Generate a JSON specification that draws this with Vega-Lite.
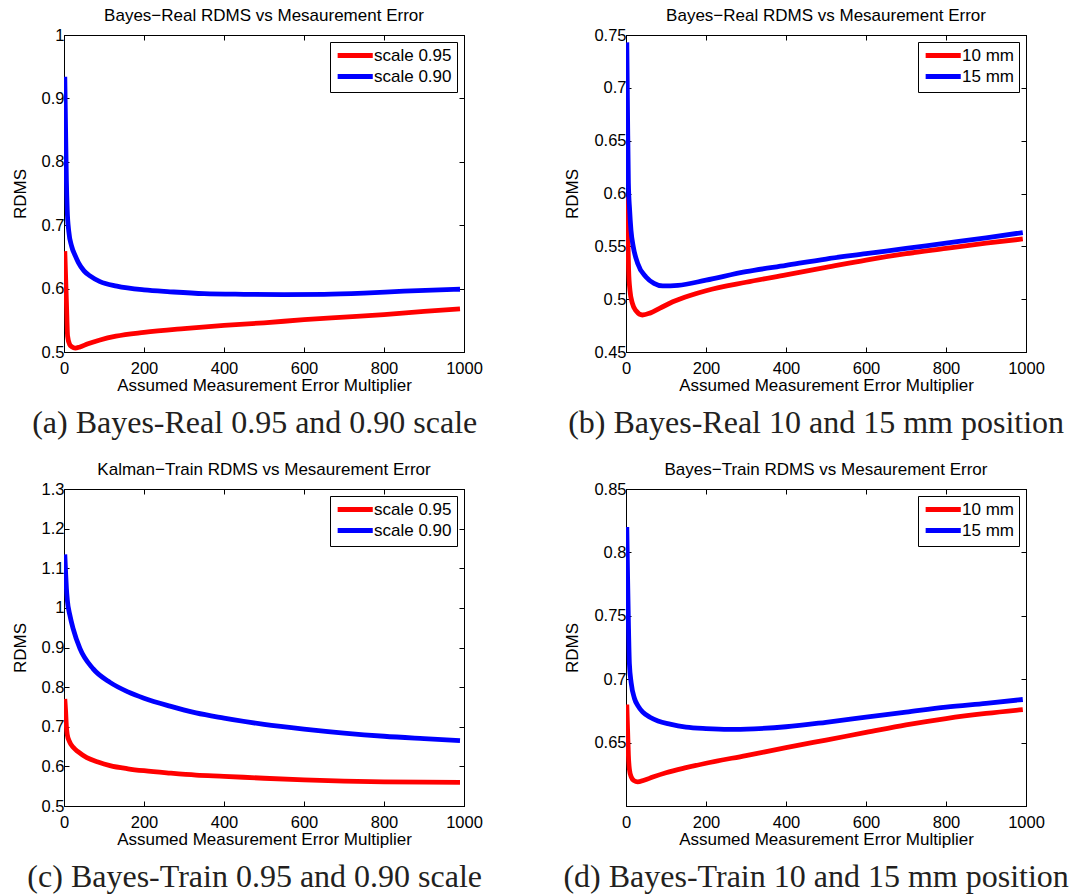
{
  "$schema": "https://vega.github.io/schema/vega-lite/v6.json",
  "background": "white",
  "padding": {"left": 10, "top": 6, "right": 5, "bottom": 5},
  "config": {
    "font": "Liberation Sans",
    "view": {"stroke": "black", "strokeWidth": 1},
    "axis": {"grid": false, "domainColor": "black", "tickColor": "black", "labelColor": "black", "titleColor": "black", "labelFontSize": 16.5, "titleFontSize": 17, "titleFontWeight": "normal", "tickSize": -5, "labelPadding": 5, "labelFlush": false, "labelOverlap": false, "labelFont": "Liberation Sans", "titleFont": "Liberation Sans"},
    "axisX": {"labelPadding": 13, "titlePadding": 1},
    "axisY": {"labelPadding": 5, "titlePadding": 12},
    "legend": {"padding": 5, "rowPadding": 0},
    "title": {"font": "Liberation Sans", "fontSize": 17, "fontWeight": "normal", "color": "black", "frame": "group", "anchor": "middle", "offset": 2}
  },
  "datasets": {
    "a": [
      {"x": 2, "y": 0.659, "s": "scale 0.95"}, {"x": 6, "y": 0.58, "s": "scale 0.95"}, {"x": 9, "y": 0.525, "s": "scale 0.95"}, {"x": 14, "y": 0.512, "s": "scale 0.95"}, {"x": 20, "y": 0.508, "s": "scale 0.95"}, {"x": 28, "y": 0.506, "s": "scale 0.95"}, {"x": 40, "y": 0.508, "s": "scale 0.95"}, {"x": 60, "y": 0.513, "s": "scale 0.95"}, {"x": 90, "y": 0.519, "s": "scale 0.95"}, {"x": 130, "y": 0.525, "s": "scale 0.95"}, {"x": 200, "y": 0.531, "s": "scale 0.95"}, {"x": 300, "y": 0.537, "s": "scale 0.95"}, {"x": 400, "y": 0.542, "s": "scale 0.95"}, {"x": 500, "y": 0.546, "s": "scale 0.95"}, {"x": 600, "y": 0.551, "s": "scale 0.95"}, {"x": 700, "y": 0.555, "s": "scale 0.95"}, {"x": 800, "y": 0.559, "s": "scale 0.95"}, {"x": 900, "y": 0.564, "s": "scale 0.95"}, {"x": 990, "y": 0.568, "s": "scale 0.95"},
      {"x": 2, "y": 0.934, "s": "scale 0.90"}, {"x": 4, "y": 0.85, "s": "scale 0.90"}, {"x": 6, "y": 0.77, "s": "scale 0.90"}, {"x": 8, "y": 0.725, "s": "scale 0.90"}, {"x": 12, "y": 0.69, "s": "scale 0.90"}, {"x": 19, "y": 0.667, "s": "scale 0.90"}, {"x": 28, "y": 0.652, "s": "scale 0.90"}, {"x": 36, "y": 0.641, "s": "scale 0.90"}, {"x": 50, "y": 0.628, "s": "scale 0.90"}, {"x": 65, "y": 0.62, "s": "scale 0.90"}, {"x": 90, "y": 0.611, "s": "scale 0.90"}, {"x": 132, "y": 0.604, "s": "scale 0.90"}, {"x": 200, "y": 0.598, "s": "scale 0.90"}, {"x": 265, "y": 0.595, "s": "scale 0.90"}, {"x": 350, "y": 0.592, "s": "scale 0.90"}, {"x": 450, "y": 0.591, "s": "scale 0.90"}, {"x": 550, "y": 0.5905, "s": "scale 0.90"}, {"x": 650, "y": 0.591, "s": "scale 0.90"}, {"x": 750, "y": 0.593, "s": "scale 0.90"}, {"x": 850, "y": 0.596, "s": "scale 0.90"}, {"x": 990, "y": 0.599, "s": "scale 0.90"}
    ],
    "b": [
      {"x": 2, "y": 0.597, "s": "10 mm"}, {"x": 4, "y": 0.57, "s": "10 mm"}, {"x": 6.5, "y": 0.528, "s": "10 mm"}, {"x": 10, "y": 0.508, "s": "10 mm"}, {"x": 16, "y": 0.496, "s": "10 mm"}, {"x": 25, "y": 0.489, "s": "10 mm"}, {"x": 41, "y": 0.485, "s": "10 mm"}, {"x": 60, "y": 0.4868, "s": "10 mm"}, {"x": 85, "y": 0.4915, "s": "10 mm"}, {"x": 117, "y": 0.4975, "s": "10 mm"}, {"x": 160, "y": 0.5035, "s": "10 mm"}, {"x": 200, "y": 0.508, "s": "10 mm"}, {"x": 300, "y": 0.516, "s": "10 mm"}, {"x": 400, "y": 0.523, "s": "10 mm"}, {"x": 500, "y": 0.53, "s": "10 mm"}, {"x": 600, "y": 0.537, "s": "10 mm"}, {"x": 700, "y": 0.543, "s": "10 mm"}, {"x": 800, "y": 0.548, "s": "10 mm"}, {"x": 900, "y": 0.553, "s": "10 mm"}, {"x": 992, "y": 0.557, "s": "10 mm"},
      {"x": 2, "y": 0.743, "s": "15 mm"}, {"x": 4, "y": 0.67, "s": "15 mm"}, {"x": 6, "y": 0.61, "s": "15 mm"}, {"x": 9, "y": 0.585, "s": "15 mm"}, {"x": 12.5, "y": 0.565, "s": "15 mm"}, {"x": 18, "y": 0.55, "s": "15 mm"}, {"x": 29, "y": 0.534, "s": "15 mm"}, {"x": 50, "y": 0.521, "s": "15 mm"}, {"x": 70, "y": 0.515, "s": "15 mm"}, {"x": 92, "y": 0.5125, "s": "15 mm"}, {"x": 130, "y": 0.513, "s": "15 mm"}, {"x": 200, "y": 0.518, "s": "15 mm"}, {"x": 300, "y": 0.526, "s": "15 mm"}, {"x": 400, "y": 0.532, "s": "15 mm"}, {"x": 500, "y": 0.538, "s": "15 mm"}, {"x": 600, "y": 0.543, "s": "15 mm"}, {"x": 700, "y": 0.548, "s": "15 mm"}, {"x": 800, "y": 0.553, "s": "15 mm"}, {"x": 900, "y": 0.558, "s": "15 mm"}, {"x": 992, "y": 0.563, "s": "15 mm"}
    ],
    "c": [
      {"x": 2, "y": 0.77, "s": "scale 0.95"}, {"x": 4, "y": 0.74, "s": "scale 0.95"}, {"x": 6, "y": 0.7, "s": "scale 0.95"}, {"x": 8, "y": 0.681, "s": "scale 0.95"}, {"x": 14, "y": 0.662, "s": "scale 0.95"}, {"x": 23, "y": 0.648, "s": "scale 0.95"}, {"x": 35, "y": 0.637, "s": "scale 0.95"}, {"x": 57, "y": 0.622, "s": "scale 0.95"}, {"x": 85, "y": 0.611, "s": "scale 0.95"}, {"x": 115, "y": 0.602, "s": "scale 0.95"}, {"x": 160, "y": 0.594, "s": "scale 0.95"}, {"x": 200, "y": 0.589, "s": "scale 0.95"}, {"x": 265, "y": 0.583, "s": "scale 0.95"}, {"x": 330, "y": 0.578, "s": "scale 0.95"}, {"x": 400, "y": 0.575, "s": "scale 0.95"}, {"x": 500, "y": 0.57, "s": "scale 0.95"}, {"x": 600, "y": 0.566, "s": "scale 0.95"}, {"x": 700, "y": 0.563, "s": "scale 0.95"}, {"x": 800, "y": 0.561, "s": "scale 0.95"}, {"x": 900, "y": 0.56, "s": "scale 0.95"}, {"x": 990, "y": 0.5595, "s": "scale 0.95"},
      {"x": 2, "y": 1.135, "s": "scale 0.90"}, {"x": 4, "y": 1.09, "s": "scale 0.90"}, {"x": 6, "y": 1.05, "s": "scale 0.90"}, {"x": 8.3, "y": 1.02, "s": "scale 0.90"}, {"x": 15, "y": 0.98, "s": "scale 0.90"}, {"x": 23, "y": 0.947, "s": "scale 0.90"}, {"x": 40, "y": 0.897, "s": "scale 0.90"}, {"x": 73, "y": 0.846, "s": "scale 0.90"}, {"x": 115, "y": 0.812, "s": "scale 0.90"}, {"x": 160, "y": 0.788, "s": "scale 0.90"}, {"x": 200, "y": 0.772, "s": "scale 0.90"}, {"x": 265, "y": 0.752, "s": "scale 0.90"}, {"x": 330, "y": 0.735, "s": "scale 0.90"}, {"x": 400, "y": 0.722, "s": "scale 0.90"}, {"x": 500, "y": 0.706, "s": "scale 0.90"}, {"x": 600, "y": 0.694, "s": "scale 0.90"}, {"x": 700, "y": 0.684, "s": "scale 0.90"}, {"x": 800, "y": 0.676, "s": "scale 0.90"}, {"x": 900, "y": 0.67, "s": "scale 0.90"}, {"x": 990, "y": 0.665, "s": "scale 0.90"}
    ],
    "d": [
      {"x": 2, "y": 0.68, "s": "10 mm"}, {"x": 4, "y": 0.66, "s": "10 mm"}, {"x": 6, "y": 0.64, "s": "10 mm"}, {"x": 8.5, "y": 0.629, "s": "10 mm"}, {"x": 13, "y": 0.623, "s": "10 mm"}, {"x": 20, "y": 0.62, "s": "10 mm"}, {"x": 29, "y": 0.619, "s": "10 mm"}, {"x": 45, "y": 0.6203, "s": "10 mm"}, {"x": 67, "y": 0.6228, "s": "10 mm"}, {"x": 100, "y": 0.6262, "s": "10 mm"}, {"x": 150, "y": 0.6302, "s": "10 mm"}, {"x": 200, "y": 0.6337, "s": "10 mm"}, {"x": 300, "y": 0.6398, "s": "10 mm"}, {"x": 400, "y": 0.646, "s": "10 mm"}, {"x": 500, "y": 0.652, "s": "10 mm"}, {"x": 600, "y": 0.658, "s": "10 mm"}, {"x": 700, "y": 0.664, "s": "10 mm"}, {"x": 800, "y": 0.669, "s": "10 mm"}, {"x": 900, "y": 0.673, "s": "10 mm"}, {"x": 992, "y": 0.676, "s": "10 mm"},
      {"x": 2, "y": 0.82, "s": "15 mm"}, {"x": 4, "y": 0.78, "s": "15 mm"}, {"x": 6, "y": 0.745, "s": "15 mm"}, {"x": 8.5, "y": 0.712, "s": "15 mm"}, {"x": 13, "y": 0.697, "s": "15 mm"}, {"x": 21, "y": 0.685, "s": "15 mm"}, {"x": 30, "y": 0.679, "s": "15 mm"}, {"x": 42, "y": 0.674, "s": "15 mm"}, {"x": 60, "y": 0.67, "s": "15 mm"}, {"x": 80, "y": 0.667, "s": "15 mm"}, {"x": 110, "y": 0.6645, "s": "15 mm"}, {"x": 150, "y": 0.6622, "s": "15 mm"}, {"x": 200, "y": 0.661, "s": "15 mm"}, {"x": 258, "y": 0.6604, "s": "15 mm"}, {"x": 320, "y": 0.6609, "s": "15 mm"}, {"x": 400, "y": 0.6625, "s": "15 mm"}, {"x": 500, "y": 0.666, "s": "15 mm"}, {"x": 600, "y": 0.67, "s": "15 mm"}, {"x": 700, "y": 0.674, "s": "15 mm"}, {"x": 800, "y": 0.678, "s": "15 mm"}, {"x": 900, "y": 0.681, "s": "15 mm"}, {"x": 992, "y": 0.684, "s": "15 mm"}
    ]
  },
  "vconcat": [
    {
      "hconcat": [
        {
          "vconcat": [
            {
              "width": 400, "height": 317,
              "title": {"text": "Bayes−Real RDMS vs Mesaurement Error"},
              "data": {"name": "a"},
              "layer": [
                {"mark": {"type": "line", "strokeWidth": 4.8, "interpolate": "monotone", "clip": true},
                 "encoding": {
                   "x": {"field": "x", "type": "quantitative", "scale": {"domain": [0, 1000], "nice": false, "zero": false}, "axis": {"values": [0, 200, 400, 600, 800, 1000], "format": "d", "title": "Assumed Measurement Error Multiplier"}},
                   "y": {"field": "y", "type": "quantitative", "scale": {"domain": [0.5, 1], "nice": false, "zero": false}, "axis": {"values": [0.5, 0.6, 0.7, 0.8, 0.9, 1], "format": "~g", "title": "RDMS"}},
                   "color": {"field": "s", "type": "nominal", "sort": null, "scale": {"domain": ["scale 0.95", "scale 0.90"], "range": ["#ff0000", "#0000ff"]},
                     "legend": {"title": null, "orient": "top-right", "offset": 7, "strokeColor": "black", "fillColor": "white", "padding": 5, "symbolType": "M-1,0H5", "symbolSize": 137, "symbolStrokeWidth": 4.8, "labelFontSize": 17, "labelOffset": 22, "rowPadding": 0, "labelColor": "black", "labelFont": "Liberation Sans"}}
                 }},
                {"mark": {"type": "line", "opacity": 0},
                 "encoding": {
                   "x": {"field": "x", "type": "quantitative", "axis": {"orient": "top", "values": [0, 200, 400, 600, 800, 1000], "labels": false, "title": null}},
                   "y": {"field": "y", "type": "quantitative", "axis": {"orient": "right", "values": [0.5, 0.6, 0.7, 0.8, 0.9, 1], "labels": false, "title": null}},
                   "detail": {"field": "s"}
                 }}
              ],
              "resolve": {"axis": {"x": "independent", "y": "independent"}}
            }
          ],
          "title": {"text": "(a) Bayes-Real 0.95 and 0.90 scale", "orient": "bottom", "font": "Liberation Serif", "fontSize": 32, "color": "#231f20", "frame": "bounds", "offset": 14, "dx": 8},
          "resolve": {"scale": {"color": "independent"}, "legend": {"color": "independent"}}
        },
        {
          "vconcat": [
            {
              "width": 400, "height": 317,
              "title": {"text": "Bayes−Real RDMS vs Mesaurement Error"},
              "data": {"name": "b"},
              "layer": [
                {"mark": {"type": "line", "strokeWidth": 4.8, "interpolate": "monotone", "clip": true},
                 "encoding": {
                   "x": {"field": "x", "type": "quantitative", "scale": {"domain": [0, 1000], "nice": false, "zero": false}, "axis": {"values": [0, 200, 400, 600, 800, 1000], "format": "d", "title": "Assumed Measurement Error Multiplier"}},
                   "y": {"field": "y", "type": "quantitative", "scale": {"domain": [0.45, 0.75], "nice": false, "zero": false}, "axis": {"values": [0.45, 0.5, 0.55, 0.6, 0.65, 0.7, 0.75], "format": "~g", "title": "RDMS"}},
                   "color": {"field": "s", "type": "nominal", "sort": null, "scale": {"domain": ["10 mm", "15 mm"], "range": ["#ff0000", "#0000ff"]},
                     "legend": {"title": null, "orient": "top-right", "offset": 7, "strokeColor": "black", "fillColor": "white", "padding": 5, "symbolType": "M-1,0H5", "symbolSize": 137, "symbolStrokeWidth": 4.8, "labelFontSize": 17, "labelOffset": 22, "rowPadding": 0, "labelColor": "black", "labelFont": "Liberation Sans"}}
                 }},
                {"mark": {"type": "line", "opacity": 0},
                 "encoding": {
                   "x": {"field": "x", "type": "quantitative", "axis": {"orient": "top", "values": [0, 200, 400, 600, 800, 1000], "labels": false, "title": null}},
                   "y": {"field": "y", "type": "quantitative", "axis": {"orient": "right", "values": [0.45, 0.5, 0.55, 0.6, 0.65, 0.7, 0.75], "labels": false, "title": null}},
                   "detail": {"field": "s"}
                 }}
              ],
              "resolve": {"axis": {"x": "independent", "y": "independent"}}
            }
          ],
          "title": {"text": "(b) Bayes-Real 10 and 15 mm position", "orient": "bottom", "font": "Liberation Serif", "fontSize": 32, "color": "#231f20", "frame": "bounds", "offset": 14, "dx": 12},
          "resolve": {"scale": {"color": "independent"}, "legend": {"color": "independent"}}
        }
      ],
      "spacing": 80,
      "resolve": {"scale": {"color": "independent"}, "legend": {"color": "independent"}}
    },
    {
      "hconcat": [
        {
          "vconcat": [
            {
              "width": 400, "height": 317,
              "title": {"text": "Kalman−Train RDMS vs Mesaurement Error"},
              "data": {"name": "c"},
              "layer": [
                {"mark": {"type": "line", "strokeWidth": 4.8, "interpolate": "monotone", "clip": true},
                 "encoding": {
                   "x": {"field": "x", "type": "quantitative", "scale": {"domain": [0, 1000], "nice": false, "zero": false}, "axis": {"values": [0, 200, 400, 600, 800, 1000], "format": "d", "title": "Assumed Measurement Error Multiplier"}},
                   "y": {"field": "y", "type": "quantitative", "scale": {"domain": [0.5, 1.3], "nice": false, "zero": false}, "axis": {"values": [0.5, 0.6, 0.7, 0.8, 0.9, 1, 1.1, 1.2, 1.3], "format": "~g", "title": "RDMS"}},
                   "color": {"field": "s", "type": "nominal", "sort": null, "scale": {"domain": ["scale 0.95", "scale 0.90"], "range": ["#ff0000", "#0000ff"]},
                     "legend": {"title": null, "orient": "top-right", "offset": 7, "strokeColor": "black", "fillColor": "white", "padding": 5, "symbolType": "M-1,0H5", "symbolSize": 137, "symbolStrokeWidth": 4.8, "labelFontSize": 17, "labelOffset": 22, "rowPadding": 0, "labelColor": "black", "labelFont": "Liberation Sans"}}
                 }},
                {"mark": {"type": "line", "opacity": 0},
                 "encoding": {
                   "x": {"field": "x", "type": "quantitative", "axis": {"orient": "top", "values": [0, 200, 400, 600, 800, 1000], "labels": false, "title": null}},
                   "y": {"field": "y", "type": "quantitative", "axis": {"orient": "right", "values": [0.5, 0.6, 0.7, 0.8, 0.9, 1, 1.1, 1.2, 1.3], "labels": false, "title": null}},
                   "detail": {"field": "s"}
                 }}
              ],
              "resolve": {"axis": {"x": "independent", "y": "independent"}}
            }
          ],
          "title": {"text": "(c) Bayes-Train 0.95 and 0.90 scale", "orient": "bottom", "font": "Liberation Serif", "fontSize": 32, "color": "#231f20", "frame": "bounds", "offset": 14, "dx": 8},
          "resolve": {"scale": {"color": "independent"}, "legend": {"color": "independent"}}
        },
        {
          "vconcat": [
            {
              "width": 400, "height": 317,
              "title": {"text": "Bayes−Train RDMS vs Mesaurement Error"},
              "data": {"name": "d"},
              "layer": [
                {"mark": {"type": "line", "strokeWidth": 4.8, "interpolate": "monotone", "clip": true},
                 "encoding": {
                   "x": {"field": "x", "type": "quantitative", "scale": {"domain": [0, 1000], "nice": false, "zero": false}, "axis": {"values": [0, 200, 400, 600, 800, 1000], "format": "d", "title": "Assumed Measurement Error Multiplier"}},
                   "y": {"field": "y", "type": "quantitative", "scale": {"domain": [0.6, 0.85], "nice": false, "zero": false}, "axis": {"values": [0.65, 0.7, 0.75, 0.8, 0.85], "format": "~g", "title": "RDMS"}},
                   "color": {"field": "s", "type": "nominal", "sort": null, "scale": {"domain": ["10 mm", "15 mm"], "range": ["#ff0000", "#0000ff"]},
                     "legend": {"title": null, "orient": "top-right", "offset": 7, "strokeColor": "black", "fillColor": "white", "padding": 5, "symbolType": "M-1,0H5", "symbolSize": 137, "symbolStrokeWidth": 4.8, "labelFontSize": 17, "labelOffset": 22, "rowPadding": 0, "labelColor": "black", "labelFont": "Liberation Sans"}}
                 }},
                {"mark": {"type": "line", "opacity": 0},
                 "encoding": {
                   "x": {"field": "x", "type": "quantitative", "axis": {"orient": "top", "values": [0, 200, 400, 600, 800, 1000], "labels": false, "title": null}},
                   "y": {"field": "y", "type": "quantitative", "axis": {"orient": "right", "values": [0.65, 0.7, 0.75, 0.8, 0.85], "labels": false, "title": null}},
                   "detail": {"field": "s"}
                 }}
              ],
              "resolve": {"axis": {"x": "independent", "y": "independent"}}
            }
          ],
          "title": {"text": "(d) Bayes-Train 10 and 15 mm position", "orient": "bottom", "font": "Liberation Serif", "fontSize": 32, "color": "#231f20", "frame": "bounds", "offset": 14, "dx": 12},
          "resolve": {"scale": {"color": "independent"}, "legend": {"color": "independent"}}
        }
      ],
      "spacing": 80,
      "resolve": {"scale": {"color": "independent"}, "legend": {"color": "independent"}}
    }
  ],
  "spacing": 21,
  "resolve": {"scale": {"color": "independent"}, "legend": {"color": "independent"}}
}
